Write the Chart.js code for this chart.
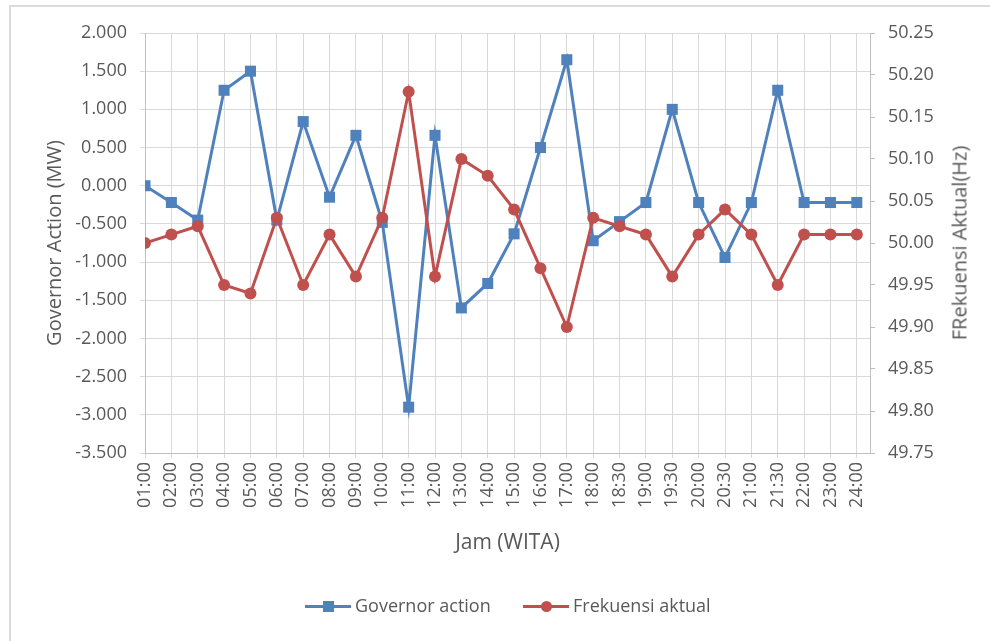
<!DOCTYPE html>
<html>
<head>
<meta charset="utf-8">
<script src="https://cdn.jsdelivr.net/npm/chart.js@4/dist/chart.umd.min.js"></script>
<style>
  html, body { margin: 0; padding: 0; background: #ffffff; }
  #wrap { position: relative; width: 990px; height: 641px; overflow: hidden; }
  #frame { position: absolute; left: 9px; top: 5px; right: 0; bottom: 0;
           border-top: 2px solid #dcdcdc; border-left: 2px solid #dcdcdc; }
  #chart { position: absolute; left: 0; top: 0; }
  #hzTitle { position: absolute; left: 959px; top: 243px; white-space: nowrap;
             font-family: "Open Sans", sans-serif; font-size: 20px; color: #595959;
             transform: translate(-50%, -50%) rotate(-90deg); }
  #legend { position: absolute; left: 0; top: 594px; width: 990px; height: 24px;
            font-family: "Open Sans", sans-serif; font-size: 18px; color: #595959; }
  .item { position: absolute; top: 0; height: 24px; line-height: 24px; white-space: nowrap; }
  .swatch { position: absolute; top: 10.5px; width: 46px; height: 3px; }
  .mark { position: absolute; width: 11px; height: 11px; top: 6.5px; left: 17.5px; }
  .label { position: absolute; top: -1px; }
</style>
</head>
<body>
<div id="wrap">
  <div id="frame"></div>
  <canvas id="chart" width="990" height="641"></canvas>
  <div id="hzTitle">FRekuensi Aktual(Hz)</div>
  <div id="legend">
    <div class="item" style="left:305px">
      <div class="swatch" style="background:#4F81BD"></div>
      <div class="mark" style="background:#4F81BD"></div>
      <div class="label" style="left:50px">Governor action</div>
    </div>
    <div class="item" style="left:523px">
      <div class="swatch" style="background:#C0504D"></div>
      <div class="mark" style="background:#C0504D;border-radius:50%"></div>
      <div class="label" style="left:50px">Frekuensi aktual</div>
    </div>
  </div>
</div>
<script>
// Hourly readings (WITA)
const catLabels = ['01:00','02:00','03:00','04:00','05:00','06:00','07:00','08:00','09:00','10:00',
                   '11:00','12:00','13:00','14:00','15:00','16:00','17:00','18:00','18:30','19:00',
                   '19:30','20:00','20:30','21:00','21:30','22:00','23:00','24:00'];

// Governor action (MW)
const governorAction = [0.00, -0.22, -0.45, 1.25, 1.50, -0.45, 0.84, -0.15, 0.66, -0.48,
                        -2.90, 0.66, -1.60, -1.28, -0.63, 0.50, 1.65, -0.72, -0.47, -0.22,
                        1.00, -0.22, -0.94, -0.22, 1.25, -0.22, -0.22, -0.22];

// Actual frequency (Hz)
const frekuensi = [50.00, 50.01, 50.02, 49.95, 49.94, 50.03, 49.95, 50.01, 49.96, 50.03,
                   50.18, 49.96, 50.10, 50.08, 50.04, 49.97, 49.90, 50.03, 50.02, 50.01,
                   49.96, 50.01, 50.04, 50.01, 49.95, 50.01, 50.01, 50.01];

// Axis tick values
const mwTicks = [2.0, 1.5, 1.0, 0.5, 0.0, -0.5, -1.0, -1.5, -2.0, -2.5, -3.0, -3.5];
const hzTicks = [50.25, 50.20, 50.15, 50.10, 50.05, 50.00, 49.95, 49.90, 49.85, 49.80, 49.75];

const FONT = '"Open Sans", sans-serif';
const TEXT = '#595959';
const GRID = '#d9d9d9';
const AXIS = '#bfbfbf';
const BLUE = '#4F81BD';
const RED = '#C0504D';

const toPoints = arr => arr.map((v, i) => ({ x: i, y: v }));

new Chart(document.getElementById('chart'), {
  type: 'line',
  data: {
    datasets: [
      {
        label: 'Governor action',
        data: toPoints(governorAction),
        yAxisID: 'y',
        borderColor: BLUE,
        backgroundColor: BLUE,
        borderWidth: 3,
        pointStyle: 'rect',
        pointRadius: 7.8,
        pointBorderWidth: 0,
        tension: 0,
        order: 1
      },
      {
        label: 'Frekuensi aktual',
        data: toPoints(frekuensi),
        yAxisID: 'y1',
        borderColor: RED,
        backgroundColor: RED,
        borderWidth: 3,
        pointStyle: 'circle',
        pointRadius: 6,
        pointBorderWidth: 0,
        tension: 0,
        order: 0
      }
    ]
  },
  options: {
    responsive: false,
    animation: false,
    devicePixelRatio: 1,
    layout: { padding: { top: 33, left: 0, right: 0, bottom: 71 } },
    plugins: {
      legend: { display: false },
      tooltip: { enabled: false }
    },
    scales: {
      x: {
        type: 'linear',
        min: 0,
        max: 27.5,
        afterBuildTicks: s => { s.ticks = catLabels.map((_, i) => ({ value: i })); },
        afterFit: s => { s.height = 117; },
        ticks: {
          autoSkip: false,
          minRotation: 90,
          maxRotation: 90,
          padding: 4,
          color: TEXT,
          font: { family: FONT, size: 18 },
          callback: v => catLabels[v]
        },
        grid: { color: GRID, lineWidth: 1, tickLength: 5 },
        border: { color: AXIS, width: 1 },
        title: {
          display: true,
          text: 'Jam (WITA)',
          color: TEXT,
          font: { family: FONT, size: 21 },
          padding: { top: 0, bottom: 14 }
        }
      },
      y: {
        position: 'left',
        min: -3.5,
        max: 2.0,
        afterBuildTicks: s => { s.ticks = mwTicks.map(v => ({ value: v })); },
        afterFit: s => { s.width = 145; },
        ticks: {
          padding: 13,
          color: TEXT,
          font: { family: FONT, size: 18 },
          callback: v => v.toFixed(3)
        },
        grid: { color: GRID, lineWidth: 1, tickLength: 5 },
        border: { color: AXIS, width: 1 },
        title: {
          display: true,
          text: 'Governor Action (MW)',
          color: TEXT,
          font: { family: FONT, size: 20 },
          padding: { top: 43, bottom: 0 }
        }
      },
      y1: {
        position: 'right',
        min: 49.75,
        max: 50.25,
        afterBuildTicks: s => { s.ticks = hzTicks.map(v => ({ value: v })); },
        afterFit: s => { s.width = 120; },
        ticks: {
          padding: 13,
          color: TEXT,
          font: { family: FONT, size: 18 },
          callback: v => v.toFixed(2)
        },
        grid: { drawOnChartArea: false, color: AXIS, lineWidth: 1, tickLength: 5 },
        border: { color: AXIS, width: 1 }
      }
    }
  }
});
</script>
</body>
</html>
